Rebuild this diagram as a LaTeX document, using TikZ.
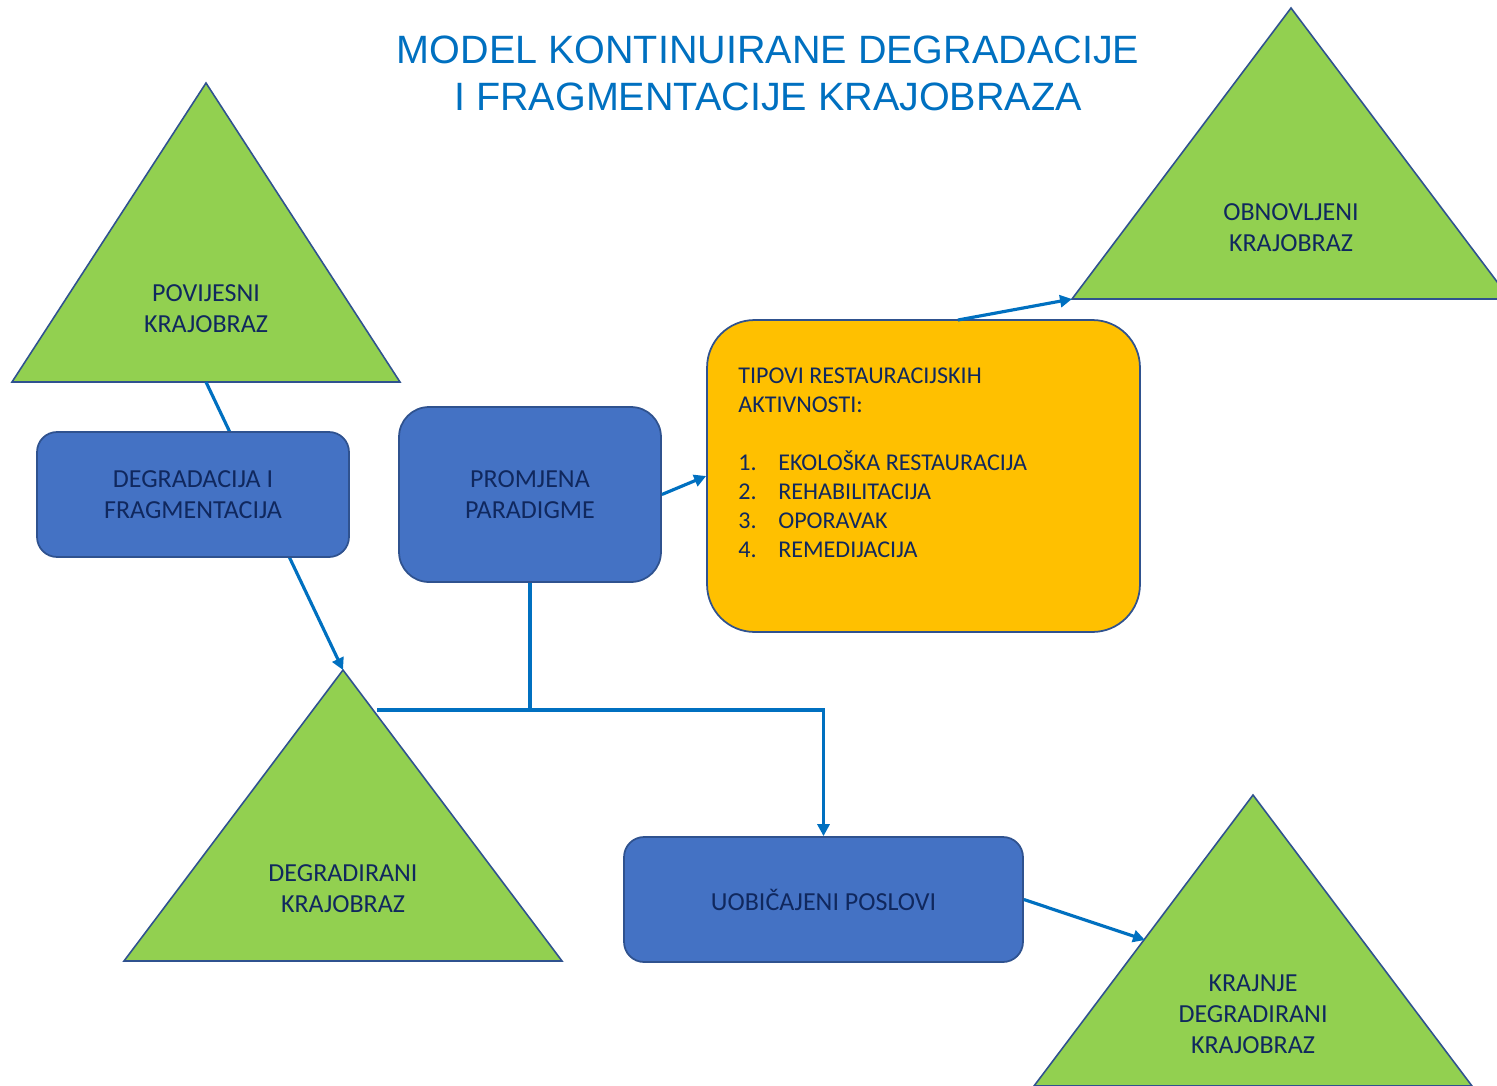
\documentclass[tikz,border=0pt]{standalone}
\usepackage{fontspec}
\setmainfont{Carlito}
\newfontfamily\titlefont{Liberation Sans}
\usetikzlibrary{positioning}
\usetikzlibrary{arrows.meta}
\definecolor{titleblue}{HTML}{0070C0}
\definecolor{navytext}{HTML}{10285E}
\definecolor{boxblue}{HTML}{4472C4}
\definecolor{boxline}{HTML}{2F528F}
\definecolor{trigreen}{HTML}{92D050}
\definecolor{boxorange}{HTML}{FFC000}
\tikzset{
    titletxt/.style = {align=center,font=\titlefont\fontsize{22.5}{26.7}\selectfont,text=titleblue},
    tritxt/.style = {align=center,font=\fontsize{14.8}{17.6}\selectfont,text=navytext},
    tri/.style = {draw=boxline, line width=0.9pt, fill=trigreen, line join=miter},
    boxb/.style = {rectangle, rounded corners=0.4cm, draw=boxline, line width=1pt, fill=boxblue, align=center,font=\fontsize{14.8}{17.6}\selectfont,text=navytext},
    boxo/.style = {rectangle, rounded corners=0.95cm, draw=boxline, line width=1pt, fill=boxorange},
    listtxt/.style = {align=left,font=\fontsize{13.7}{16.5}\selectfont,text=navytext,inner sep=0pt},
    conn/.style = {line width=1.8pt, draw=titleblue},
    connw/.style = {line width=2.4pt, draw=titleblue},
    conna/.style = {conn, -{Triangle[length=0.24cm,width=0.24cm]}}
}

\begin{document}
\begin{tikzpicture}[x=0.02cm,y=-0.02cm]
\clip (0,0) rectangle (1497,1085);
\useasboundingbox (0,0) rectangle (1497,1085);
%
\node[titletxt] (title) at (768,73) {MODEL KONTINUIRANE DEGRADACIJE\\I FRAGMENTACIJE KRAJOBRAZA};
%
% triangles
\coordinate (pt) at (206,83);
\coordinate (ot) at (1291,8);
\coordinate (dt) at (343,670);
\coordinate (kt) at (1253,795);
\filldraw[tri] (pt) -- ++(194,299) -- ++(-388,0) -- cycle;
\filldraw[tri] (ot) -- ++(219,291) -- ++(-438,0) -- cycle;
\filldraw[tri] (dt) -- ++(219,291) -- ++(-438,0) -- cycle;
\filldraw[tri] (kt) -- ++(219,291) -- ++(-438,0) -- cycle;
\node[tritxt] (pov) at (206,309) {POVIJESNI\\KRAJOBRAZ};
\node[tritxt] (obn) at (1291,228) {OBNOVLJENI\\KRAJOBRAZ};
\node[tritxt] (deg) at (343,889) {DEGRADIRANI\\KRAJOBRAZ};
\node[tritxt] (kra) at (1253,1014) {KRAJNJE\\DEGRADIRANI\\KRAJOBRAZ};
\coordinate (pb) at (206,382);
\coordinate (ol) at (1072,299);
\coordinate (dr) at (377,710);
\coordinate (kl) at (1145,940);
%
\draw[conna] (pb) -- (dt);
%
% boxes
\node[boxb, minimum width=6.24cm, minimum height=2.5cm] (df) at (193,494.5) {DEGRADACIJA I\\FRAGMENTACIJA};
\node[boxb, rounded corners=0.6cm, minimum width=5.24cm, minimum height=3.5cm] (pp) at (530,494.5) {PROMJENA\\PARADIGME};
\node[boxo, minimum width=8.66cm, minimum height=6.24cm] (tr) at (923.5,476) {};
\node[listtxt, anchor=north west] (lst) at (738,368) {TIPOVI RESTAURACIJSKIH\\AKTIVNOSTI:\\[16.5pt]
\makebox[0.8cm][l]{1.}EKOLOŠKA RESTAURACIJA\\
\makebox[0.8cm][l]{2.}REHABILITACIJA\\
\makebox[0.8cm][l]{3.}OPORAVAK\\
\makebox[0.8cm][l]{4.}REMEDIJACIJA};
\node[boxb, minimum width=7.98cm, minimum height=2.5cm] (up) at (823.5,899.5) {UOBIČAJENI POSLOVI};
%
\coordinate (jn) at (530,710);
\coordinate (ts) at (958,320);
\draw[conn] (pp.south) -- (jn);
\draw[connw] (dr) -- (jn);
\draw[conna] (jn) -| (up.north);
\draw[conna] (pp.east) -- (tr.west);
\draw[conna] (ts) -- (ol);
\draw[conna] (up.east) -- (kl);

\end{tikzpicture}
\end{document}
